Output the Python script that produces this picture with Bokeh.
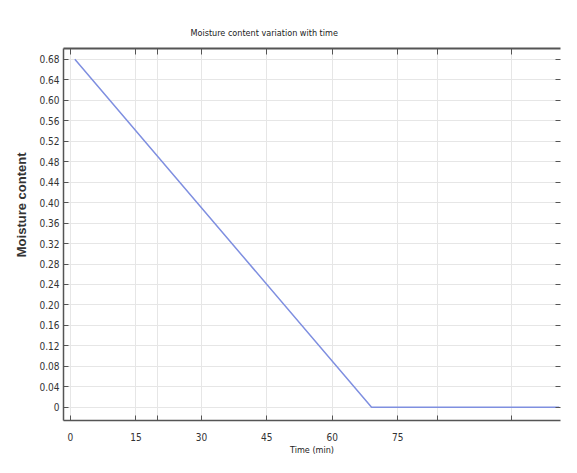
from bokeh.plotting import figure
from bokeh.models import FixedTicker, LinearAxis, Range1d, Title
from bokeh.embed import file_html
from bokeh.resources import INLINE

# Data
time_min = [1, 69, 112]
moisture = [0.68, 0.0, 0.0]

x_ticks = [0, 15, 30, 45, 60, 75]
x_extra_ticks = [20, 84, 101]
y_ticks = [0, 0.04, 0.08, 0.12, 0.16, 0.20, 0.24, 0.28, 0.32, 0.36,
           0.40, 0.44, 0.48, 0.52, 0.56, 0.60, 0.64, 0.68]
y_labels = ["0", "0.04", "0.08", "0.12", "0.16", "0.20", "0.24", "0.28", "0.32",
            "0.36", "0.40", "0.44", "0.48", "0.52", "0.56", "0.60", "0.64", "0.68"]

FONT = "Liberation Sans Narrow, DejaVu Sans Condensed, Roboto Condensed, Liberation Sans, sans-serif"
AXIS_COLOR = "#555555"

p = figure(width=561, height=457, output_backend="svg", toolbar_location=None,
           x_range=Range1d(-1.6, 112.3), y_range=Range1d(-0.0257, 0.701),
           min_border_left=63, min_border_right=1, min_border_top=48,
           min_border_bottom=35)
p.title.text = ""

p.line(time_min, moisture, line_color="#7f8fe0", line_width=1.5)

all_x = sorted(x_ticks + x_extra_ticks)
xt = FixedTicker(ticks=x_ticks, minor_ticks=x_extra_ticks)
yt = FixedTicker(ticks=y_ticks, minor_ticks=[])

for ax in (p.xaxis[0], p.yaxis[0]):
    ax.axis_line_color = AXIS_COLOR
    ax.axis_line_width = 1.5
    ax.major_tick_in = 5
    ax.major_tick_out = 0
    ax.minor_tick_in = 5
    ax.minor_tick_out = 0
    ax.major_tick_line_color = AXIS_COLOR
    ax.minor_tick_line_color = AXIS_COLOR
    ax.major_label_text_font = FONT
    ax.major_label_text_font_size = "10px"
    ax.major_label_text_color = "#333333"

p.xaxis[0].ticker = xt
p.xaxis[0].major_label_standoff = 12
p.xaxis[0].axis_label = "Time (min)"
p.xaxis[0].axis_label_text_font = FONT
p.xaxis[0].axis_label_text_font_size = "9px"
p.xaxis[0].axis_label_text_font_style = "normal"
p.xaxis[0].axis_label_text_color = "#222222"
p.xaxis[0].axis_label_standoff = 1

p.yaxis[0].ticker = yt
p.yaxis[0].major_label_overrides = dict(zip(y_ticks, y_labels))
p.yaxis[0].major_label_standoff = 4

ylabel = Title(text="Moisture content", align="right", offset=104, standoff=16,
               text_font="Liberation Sans, Arial, sans-serif", text_font_size="13px",
               text_font_style="bold", text_color="#333333")
p.add_layout(ylabel, "left")

# mirrored tick marks (no labels) on top and right
top = LinearAxis(ticker=FixedTicker(ticks=[], minor_ticks=all_x),
                 minor_tick_in=6, minor_tick_out=0,
                 axis_line_color=AXIS_COLOR, axis_line_width=2,
                 minor_tick_line_color=AXIS_COLOR)
p.add_layout(top, "above")
right = LinearAxis(ticker=FixedTicker(ticks=[], minor_ticks=y_ticks),
                   minor_tick_in=5, minor_tick_out=0,
                   axis_line_color=None, minor_tick_line_color=AXIS_COLOR)
p.add_layout(right, "right")

title = Title(text="Moisture content variation with time", align="left",
              offset=127, standoff=22, text_font=FONT, text_font_size="9px",
              text_font_style="normal", text_color="#222222")
p.add_layout(title, "above")

p.xgrid.ticker = FixedTicker(ticks=all_x, minor_ticks=[])
p.ygrid.ticker = yt
p.xgrid.grid_line_color = "#e6e6e6"
p.ygrid.grid_line_color = "#e6e6e6"
p.outline_line_color = None
p.border_fill_color = "white"

open("out.html", "w").write(file_html(p, INLINE))
